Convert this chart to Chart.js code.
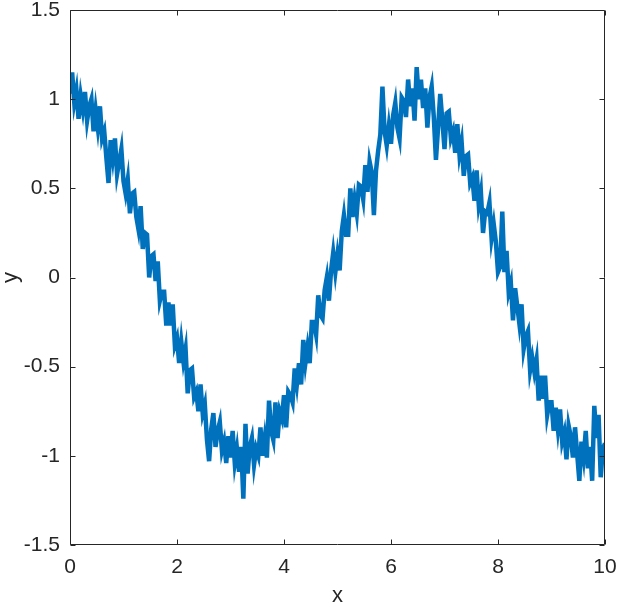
<!DOCTYPE html>
<html>
<head>
<meta charset="utf-8">
<script src="https://cdn.jsdelivr.net/npm/chart.js@4/dist/chart.umd.min.js"></script>
<style>
  html, body { margin: 0; padding: 0; background: #ffffff; }
  #wrap { width: 619px; height: 607px; }
</style>
</head>
<body>
<div id="wrap"><canvas id="c" width="619" height="607"></canvas></div>
<script>
// Sample spacing along x (0 to 10)
const xStart = 0;
const xStep = 0.04;

// Noisy y values, one per sample
const yValues = [
  1.03, 1.15, 0.98, 1.05, 0.89, 1.02, 0.94, 1.04, 0.88, 0.96,
  1.00, 0.82, 0.94, 0.84, 0.96, 0.78, 0.82, 0.67, 0.53, 0.77,
  0.67, 0.78, 0.58, 0.65, 0.72, 0.54, 0.47, 0.55, 0.36, 0.47,
  0.48, 0.34, 0.27, 0.40, 0.16, 0.25, 0.24, 0.00, 0.12, 0.13,
  -0.02, 0.09, -0.13, -0.08, -0.08, -0.27, -0.14, -0.27, -0.15, -0.38,
  -0.34, -0.48, -0.36, -0.47, -0.40, -0.65, -0.52, -0.51, -0.67, -0.64,
  -0.75, -0.60, -0.76, -0.71, -0.91, -1.03, -0.85, -0.76, -0.95, -0.86,
  -0.81, -0.97, -0.92, -1.04, -0.89, -1.01, -0.86, -1.04, -0.96, -1.09,
  -0.95, -1.24, -0.82, -1.10, -0.95, -0.90, -1.05, -0.96, -1.00, -0.84,
  -1.00, -0.90, -1.01, -0.69, -0.86, -0.91, -0.70, -0.90, -0.75, -0.79,
  -0.66, -0.84, -0.64, -0.66, -0.70, -0.51, -0.60, -0.48, -0.60, -0.35,
  -0.48, -0.39, -0.48, -0.25, -0.25, -0.32, -0.10, -0.21, -0.23, -0.07,
  0.00, -0.13, 0.04, 0.14, 0.03, 0.13, 0.04, 0.26, 0.35, 0.24,
  0.24, 0.50, 0.34, 0.44, 0.36, 0.52, 0.51, 0.44, 0.63, 0.48,
  0.65, 0.59, 0.35, 0.60, 0.71, 0.80, 1.07, 0.82, 0.74, 0.85,
  0.75, 0.91, 0.98, 0.84, 0.78, 1.01, 0.99, 0.90, 1.11, 0.96,
  1.06, 0.88, 1.18, 1.00, 1.11, 0.95, 1.06, 0.84, 1.01, 1.07,
  0.90, 0.66, 0.84, 1.03, 0.88, 0.72, 0.92, 0.93, 0.78, 0.82,
  0.70, 0.86, 0.69, 0.76, 0.57, 0.68, 0.69, 0.53, 0.56, 0.43,
  0.60, 0.41, 0.48, 0.25, 0.37, 0.36, 0.42, 0.22, 0.30, 0.20,
  0.03, 0.06, 0.37, 0.03, 0.15, -0.08, -0.03, -0.24, -0.06, -0.16,
  -0.26, -0.15, -0.40, -0.33, -0.30, -0.52, -0.45, -0.53, -0.46, -0.69,
  -0.55, -0.68, -0.55, -0.77, -0.70, -0.70, -0.86, -0.73, -0.85, -0.74,
  -0.92, -0.87, -1.02, -0.83, -0.89, -1.01, -0.84, -0.99, -1.14, -0.92,
  -1.01, -0.86, -1.07, -0.95, -1.14, -0.72, -0.90, -0.77, -1.12, -0.96,
  -0.93
];

// Axis ticks and labels
const xTicks = [0, 2, 4, 6, 8, 10];
const yTicks = [-1.5, -1, -0.5, 0, 0.5, 1, 1.5];
const xLabel = 'x';
const yLabel = 'y';

const points = yValues.map((v, i) => ({ x: +(xStart + i * xStep).toFixed(4), y: v }));

const AXIS_COLOR = '#262626';
const FONT = 'Arial, "Liberation Sans", Helvetica, sans-serif';

const boxPlugin = {
  id: 'matlabBox',
  afterDraw(chart) {
    const { ctx, chartArea: a, scales } = chart;
    ctx.save();
    ctx.strokeStyle = AXIS_COLOR;
    ctx.lineWidth = 1;
    const L = Math.round(a.left) + 0.5, R = Math.round(a.right) - 0.5;
    const T = Math.round(a.top) + 0.5, B = Math.round(a.bottom) - 0.5;
    ctx.beginPath();
    ctx.rect(L, T, R - L, B - T);
    ctx.stroke();
    const tl = 5;
    ctx.beginPath();
    xTicks.forEach(t => {
      const px = Math.round(scales.x.getPixelForValue(t)) + 0.5;
      ctx.moveTo(px, B); ctx.lineTo(px, B - tl);
      ctx.moveTo(px, T); ctx.lineTo(px, T + tl);
    });
    yTicks.forEach(t => {
      const py = Math.round(scales.y.getPixelForValue(t)) + 0.5;
      ctx.moveTo(L, py); ctx.lineTo(L + tl, py);
      ctx.moveTo(R, py); ctx.lineTo(R - tl, py);
    });
    ctx.stroke();
    ctx.restore();
  }
};

new Chart(document.getElementById('c'), {
  type: 'line',
  data: {
    datasets: [{
      data: points,
      borderColor: '#0072BD',
      backgroundColor: '#0072BD',
      borderWidth: 4.5,
      pointRadius: 0,
      tension: 0,
      fill: false
    }]
  },
  options: {
    responsive: false,
    animation: false,
    devicePixelRatio: 1,
    layout: { padding: { top: 10, right: 14, left: 0, bottom: 0 } },
    plugins: { legend: { display: false }, tooltip: { enabled: false } },
    scales: {
      x: {
        type: 'linear',
        min: 0, max: 10,
        afterBuildTicks(s) { s.ticks = xTicks.map(v => ({ value: v })); },
        afterFit(s) { s.height = 62; s.paddingLeft = 0; s.paddingRight = 0; },
        grid: { display: false, drawTicks: false },
        border: { display: false },
        ticks: {
          color: AXIS_COLOR,
          font: { family: FONT, size: 21 },
          padding: 10,
          maxRotation: 0,
          callback: v => String(v)
        },
        title: {
          display: true, text: xLabel, color: AXIS_COLOR,
          font: { family: FONT, size: 22, lineHeight: 1.0 },
          padding: { top: 0, bottom: 0 }
        }
      },
      y: {
        type: 'linear',
        min: -1.5, max: 1.5,
        afterBuildTicks(s) { s.ticks = yTicks.map(v => ({ value: v })); },
        afterFit(s) { s.width = 70; s.paddingTop = 0; s.paddingBottom = 0; },
        grid: { display: false, drawTicks: false },
        border: { display: false },
        ticks: {
          color: AXIS_COLOR,
          font: { family: FONT, size: 21 },
          padding: 10,
          callback: v => String(v)
        },
        title: {
          display: true, text: yLabel, color: AXIS_COLOR,
          font: { family: FONT, size: 22, lineHeight: 1.0 },
          padding: { top: 0, bottom: 0 }
        }
      }
    }
  },
  plugins: [boxPlugin]
});
</script>
</body>
</html>
